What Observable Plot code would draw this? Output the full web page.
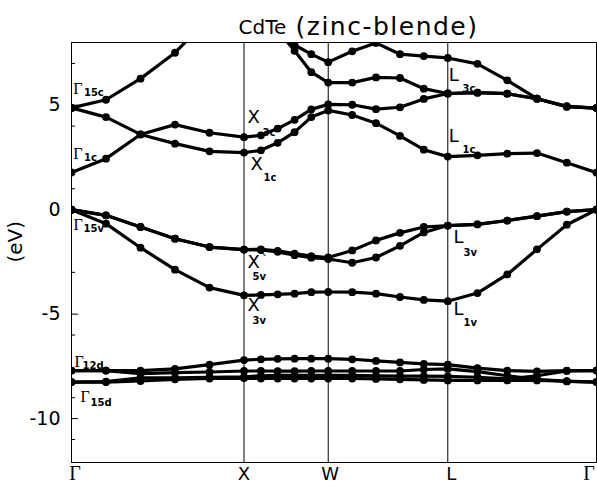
<!DOCTYPE html>
<html><head><meta charset="utf-8">
<script src="https://cdn.jsdelivr.net/npm/d3@7"></script>
<script src="https://cdn.jsdelivr.net/npm/@observablehq/plot@0.6"></script>
<style>body{margin:0;background:#fff} svg{display:block}</style>
</head><body><div id="chart"></div>
<script>
// k-path sample points (units of Γ–X length): Γ–X, X–W, W–L, L–Γ
const kPoints = [0,0.2,0.4,0.6,0.8,1.0, 1.098,1.195,1.293,1.390,1.488, 1.627,1.765,1.904,2.042,2.181, 2.353,2.526,2.698,2.871,3.043];
const symTicks = [0, 1, 1.488, 2.181, 3.043];
const symLabels = ["Γ","X","W","L","Γ"];
const yMajorTicks = [-10, -5, 0, 5];
const yMinorTicks = [7, 4, 1, -3, -6, -9, -11];

// conduction bands (eV); null = off the chart
const bandC1 = [1.78, 2.44, 3.60, 4.07, 3.68, 3.47, 3.56, 3.88, 4.30, 4.80, 5.04, 5.02, 4.81, 4.90, 5.30, 5.56, 5.60, 5.55, 5.31, 4.93, 4.86];
const bandC2 = [4.87, 4.43, 3.60, 3.16, 2.79, 2.73, 2.84, 3.20, 3.71, 4.43, 4.75, 4.53, 4.14, 3.53, 2.87, 2.54, 2.60, 2.68, 2.71, 2.25, 1.77];
const bandC3 = [4.87, 5.26, 6.27, 7.51, 9.2, null, null, 8.3, 7.88, 7.44, 7.06, 7.58, 7.98, 7.44, 7.35, 7.26, 6.98, 6.19, 5.31, 4.95, 4.86];
const bandC4 = [null, null, null, null, null, null, null, 8.6, 7.6, 6.58, 6.08, 6.08, 6.33, 6.30, 5.79, 5.56, 5.60, 5.55, 5.31, 4.93, 4.86];
// valence bands
const bandV1a = [0, -0.27, -0.83, -1.39, -1.79, -1.91, -1.90, -1.97, -2.10, -2.22, -2.29, -1.95, -1.47, -1.11, -0.83, -0.76, -0.70, -0.52, -0.31, -0.09, 0];
const bandV1b = [0, -0.27, -0.83, -1.39, -1.79, -1.91, -1.93, -2.02, -2.18, -2.30, -2.36, -2.54, -2.29, -1.73, -1.09, -0.76, -0.70, -0.52, -0.31, -0.09, 0];
const bandV2 = [0, -0.67, -1.82, -2.87, -3.73, -4.10, -4.08, -4.05, -4.02, -3.95, -3.94, -3.95, -4.02, -4.18, -4.32, -4.38, -3.99, -3.10, -1.90, -0.72, 0];
// Cd 4d bands
const bandD1 = [-7.70, -7.70, -7.70, -7.62, -7.42, -7.20, -7.16, -7.14, -7.13, -7.13, -7.13, -7.16, -7.24, -7.31, -7.38, -7.42, -7.58, -7.70, -7.74, -7.70, -7.70];
const bandD2 = [-7.70, -7.70, -7.85, -7.80, -7.77, -7.72, -7.72, -7.73, -7.73, -7.72, -7.72, -7.72, -7.72, -7.72, -7.65, -7.62, -7.75, -7.95, -8.12, -8.22, -8.25];
const bandD3 = [-8.25, -8.23, -8.05, -8.05, -8.02, -8.00, -7.95, -7.93, -7.93, -7.93, -7.93, -7.93, -7.95, -7.97, -7.97, -7.98, -8.02, -8.10, -7.95, -7.72, -7.70];
const bandD4 = [-8.25, -8.25, -8.20, -8.12, -8.08, -8.06, -8.08, -8.08, -8.08, -8.08, -8.08, -8.08, -8.10, -8.12, -8.15, -8.17, -8.17, -8.17, -8.17, -8.21, -8.25];

// symmetry-point annotations
const labelMain = ["Γ","Γ","Γ","Γ","Γ","X","X","X","X","L","L","L","L"];
const labelSub  = ["15c","1c","15v","12d","15d","3c","1c","5v","3v","3c","1c","3v","1v"];
const labelK = [0.010,0.010,0.012,0.017,0.052,1.020,1.038,1.020,1.020,2.186,2.186,2.214,2.214];
const labelE = [5.76,2.67,-0.75,-7.28,-8.96,4.44,2.19,-2.50,-4.58,6.45,3.53,-1.30,-4.75];
const subK = [0.072,0.072,0.070,0.064,0.110,1.107,1.113,1.049,1.049,2.267,2.267,2.272,2.272];
const subE = [5.61,2.50,-0.90,-7.47,-9.22,3.67,1.52,-3.22,-5.30,5.80,2.86,-2.07,-5.42];

const bands = [["c1",bandC1],["c2",bandC2],["c3",bandC3],["c4",bandC4],["v1a",bandV1a],["v1b",bandV1b],["v2",bandV2],["d1",bandD1],["d2",bandD2],["d3",bandD3],["d4",bandD4]];
const rows = [];
bands.forEach(([name, vals]) => vals.forEach((v, i) => rows.push({band: name, k: kPoints[i], E: v})));
const labels = labelMain.map((m, i) => ({main: m, sub: labelSub[i], k: labelK[i], E: labelE[i], sk: subK[i], sE: subE[i]}));
const gLabels = labels.filter(d => d.main === "Γ");
const oLabels = labels.filter(d => d.main !== "Γ");
const xDx = [3.5, 0, 2, 3.5, -7.5];

const plot = Plot.plot({
  width: 597, height: 491,
  marginLeft: 71, marginRight: 1, marginTop: 42, marginBottom: 29,
  x: {domain: [0, 3.043], axis: null},
  y: {domain: [-12.1, 8.0], axis: null},
  style: {fontFamily: "DejaVu Sans", background: "white", color: "black", overflow: "visible"},
  marks: [
    Plot.ruleX(symTicks.slice(1, -1), {x: d => d, stroke: "black", strokeWidth: 1}),
    Plot.frame({stroke: "black", strokeWidth: 1}),
    Plot.tickY(yMajorTicks, {y: d => d, insetRight: 518, stroke: "black"}),
    Plot.tickY(yMinorTicks, {y: d => d, insetRight: 521, stroke: "black"}),
    Plot.line(rows, {x: "k", y: "E", z: "band", stroke: "black", strokeWidth: 3.2, clip: true}),
    Plot.dot(rows.filter(d => d.E != null), {x: "k", y: "E", r: 3.9, fill: "black", clip: true}),
    Plot.text(yMajorTicks, {y: d => d, text: d => String(d), frameAnchor: "left", textAnchor: "end", dx: -11, fontSize: 19}),
    ...symTicks.map((t, i) => Plot.text([symLabels[i]], {x: () => t, text: d => d, frameAnchor: "bottom", dy: 17, dx: xDx[i], fontSize: symLabels[i] === "Γ" ? 20 : 18, fontFamily: symLabels[i] === "Γ" ? "Liberation Serif" : "DejaVu Sans"})),
    Plot.text(["(eV)"], {text: d => d, frameAnchor: "left", dx: -56, dy: 10, rotate: -90, fontSize: 20}),
    Plot.text(["CdTe"], {text: d => d, frameAnchor: "top-left", dx: 167, dy: -23, textAnchor: "start", fontSize: 20}),
    Plot.text(["(zinc-blende)"], {text: d => d, frameAnchor: "top-left", dx: 224, dy: -25, textAnchor: "start", fontSize: 25}),
    Plot.text(gLabels, {x: "k", y: "E", text: "main", textAnchor: "start", fontSize: 16, fontFamily: "Liberation Serif"}),
    Plot.text(oLabels, {x: "k", y: "E", text: "main", textAnchor: "start", fontSize: 18}),
    Plot.text(labels, {x: "sk", y: "sE", text: "sub", textAnchor: "start", fontSize: 10, fontWeight: "bold"}),
    Plot.text(["ˋ"], {x: () => 1.12, y: () => -2.45, text: d => d, fontSize: 14})
  ]
});
d3.select(plot).selectAll("text").filter(function() { return this.textContent === "(zinc-blende)"; }).attr("letter-spacing", "1.5px");
document.getElementById("chart").appendChild(plot);
</script>
</body></html>
